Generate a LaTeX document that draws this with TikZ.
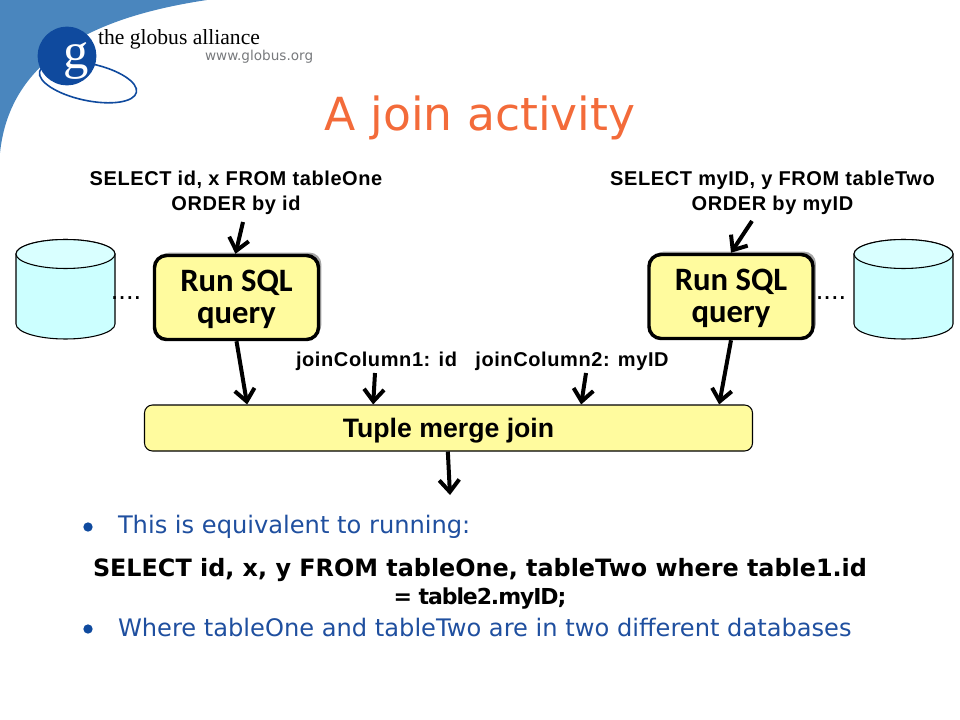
\documentclass[tikz,border=0pt]{standalone}
\usepackage{fontspec}
\usetikzlibrary{arrows.meta,shadows,calc}
\setmainfont{Liberation Sans}
\newfontfamily\verd{DejaVu Sans}
\newfontfamily\serifl{Liberation Serif}
\newfontfamily\runf{Carlito}
\newfontfamily\arialsp[LetterSpace=3]{Liberation Sans}
\newfontfamily\verdtight[LetterSpace=-5]{DejaVu Sans}
\definecolor{swoosh}{HTML}{4A86BE}
\definecolor{gblue}{HTML}{0F4A9E}
\definecolor{txtblue}{HTML}{1F4F9F}
\definecolor{titleor}{HTML}{F36B3A}
\definecolor{boxy}{HTML}{FFFB9E}
\definecolor{cyl}{HTML}{CCFFFF}
\definecolor{webgray}{HTML}{77797C}
\tikzset{
  lbl/.style={inner sep=0pt,outer sep=0pt,anchor=base,text=black},
  sqltext/.style={lbl,font=\fontsize{15}{18.75}\selectfont\arialsp\bfseries,align=center,anchor=north},
  collabel/.style={lbl,font=\fontsize{15}{18}\selectfont\arialsp\bfseries},
  runbox/.style={draw=black,line width=2.6pt,fill=boxy,rounded corners=9pt,minimum width=123pt,minimum height=63pt,
    inner sep=0pt,align=center,font=\fontsize{24.5}{24}\selectfont\runf\bfseries,
    drop shadow={shadow xshift=2.2pt,shadow yshift=2.2pt,fill=black!35,opacity=1}},
  mergebox/.style={draw=black,line width=0.8pt,fill=boxy,rounded corners=6pt,minimum width=456pt,minimum height=34.5pt,
    inner sep=0pt,text height=16pt,text depth=1.8pt,font=\fontsize{20}{24}\selectfont\bfseries},
  flow/.style={draw=black,line width=3pt,-{Straight Barb[length=9pt,width=15pt,line width=3pt]}},
  body/.style={lbl,anchor=base west,text=txtblue,font=\fontsize{18.1}{22}\selectfont\verd},
  sqlbig/.style={lbl,font=\fontsize{17.9}{22}\selectfont\verd\bfseries},
  sqlnarrow/.style={lbl,font=\fontsize{16.5}{22}\selectfont\verdtight\bfseries},
  bullet/.style={circle,fill=gblue,inner sep=0pt,minimum size=7pt},
  dots/.style={lbl,font=\fontsize{20.5}{22}\selectfont},
  cylbody/.style={draw=black,line width=0.8pt,fill=cyl}
}
\newcommand{\drumshape}[1]{%
  \begin{scope}[xshift=#1*0.75pt]
    \path[cylbody] (0,254) -- (0,324) arc[start angle=180,end angle=0,x radius=49.5,y radius=15] -- (99,254) arc[start angle=0,end angle=-180,x radius=49.5,y radius=14.5] -- cycle;
    \path[cylbody,fill=cyl!75!white] (49.5,254) ellipse[x radius=49.5,y radius=14.5];
  \end{scope}}
\begin{document}
\begin{tikzpicture}[x=0.75pt,y=-0.75pt]
\useasboundingbox (0,0) rectangle (960,720);
% logo
\fill[swoosh] (0,0) -- (207,0) .. controls (100,16) and (10,55) .. (0,153) -- cycle;
\draw[gblue,line width=1.2pt,rotate around={-12:(88,82)}] (88,82) ellipse[x radius=49.5,y radius=18.5];
\node[circle,fill=gblue,minimum size=44pt,inner sep=0pt] (gdisc) at (67,56) {};
\node[lbl,text=white,font=\fontsize{38}{38}\selectfont\serifl] (gletter) at (76,69) {g};
\node[lbl,anchor=base west,font=\fontsize{16.2}{18}\selectfont\serifl] (org) at (98,45) {the globus alliance};
\node[lbl,anchor=base west,text=webgray,font=\fontsize{10.2}{12}\selectfont\verd] (web) at (205,61) {www.globus.org};
% title
\node[lbl,text=titleor,font=\fontsize{34.2}{36}\selectfont\verd] (title) at (480,131) {A join activity};
% cylinders
\drumshape{16}
\drumshape{854}
\node[dots] (dotsl) at (126,300) {....};
\node[dots] (dotsr) at (831,300) {....};
% boxes
\node[runbox] (runa) at (236.5,297.5) {\rule{0pt}{18.5pt}Run SQL\\query};
\node[runbox] (runb) at (731,296.5) {\rule{0pt}{18.5pt}Run SQL\\query};
\node[mergebox] (merge) at (448.5,428) {Tuple merge join};
% texts
\node[sqltext] (sqla) at (236,171) {SELECT id, x FROM tableOne\\ORDER by id};
\node[sqltext] (sqlb) at (772.5,171) {SELECT myID, y FROM tableTwo\\ORDER by myID};
\node[collabel] (jca) at (376.5,366) {joinColumn1: id};
\node[collabel] (jcb) at (572,366) {joinColumn2: myID};
% free ends
\coordinate (ina) at (243,222);
\coordinate (inb) at (752,221);
\coordinate (ja) at (375,373);
\coordinate (jb) at (586,373);
\coordinate (outp) at (450,495);
% connectors
\draw[flow] (ina) -- ([xshift=-0.75pt]runa.north);
\draw[flow] (inb) -- (runb.north);
\draw[flow] (runa.south) -- ([xshift=-151pt]merge.north);
\draw[flow] (runb.south) -- ([xshift=203pt]merge.north);
\draw[flow] (ja) -- ([xshift=-56.5pt]merge.north);
\draw[flow] (jb) -- ([xshift=99.5pt]merge.north);
\draw[flow] ([xshift=-0.5pt]merge.south) -- (outp);
% body
\node[bullet] (ba) at (88,527) {};
\node[body] (ta) at (118,533) {This is equivalent to running:};
\node[sqlbig] (tb) at (480,576) {SELECT id, x, y FROM tableOne, tableTwo where table1.id};
\node[sqlnarrow] (tc) at (480,604) {= table2.myID;};
\node[bullet] (bb) at (88,629) {};
\node[body] (td) at (118,636) {Where tableOne and tableTwo are in two different databases};
\end{tikzpicture}
\end{document}
